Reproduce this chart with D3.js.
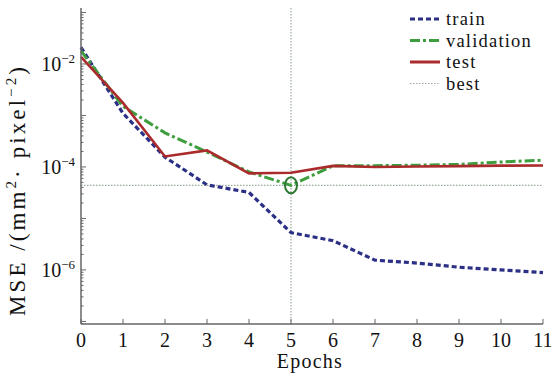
<!DOCTYPE html>
<html>
<head>
<meta charset="utf-8">
<script src="https://cdn.jsdelivr.net/npm/d3@7"></script>
<style>
  body { margin: 0; background: #fff; }
  svg text { fill: #111; }
</style>
</head>
<body>
<script>
var width = 553,
    height = 375;

var margin = { top: 8, right: 10, bottom: 51, left: 81 };

// data
var epochs = [0, 1, 2, 3, 4, 5, 6, 7, 8, 9, 10, 11];
var train = [2.1e-2, 1.1e-3, 1.55e-4, 4.5e-5, 3.2e-5, 5.3e-6, 3.7e-6, 1.55e-6, 1.36e-6, 1.13e-6, 1.0e-6, 8.9e-7];
var validation = [1.8e-2, 1.5e-3, 4.6e-4, 1.95e-4, 8e-5, 4.4e-5, 1.05e-4, 1.06e-4, 1.08e-4, 1.12e-4, 1.25e-4, 1.35e-4];
var test = [1.37e-2, 1.75e-3, 1.6e-4, 2.1e-4, 7.5e-5, 7.7e-5, 1.05e-4, 1.0e-4, 1.02e-4, 1.04e-4, 1.06e-4, 1.07e-4];
var bestEpoch = 5, bestValue = 4.4e-5;
var yTicks = [-2, -4, -6];
var legendNames = ["train", "validation", "test", "best"];

var svg = d3.select("body").append("svg")
    .attr("width", width)
    .attr("height", height);

var x = d3.scaleLinear().domain([0, 11]).range([margin.left, width - margin.right]);
var y = d3.scaleLog().domain([Math.pow(10, -7.05), Math.pow(10, -0.913)]).range([height - margin.bottom, margin.top]);

var axisColor = "#666";
var font = "'Liberation Serif', serif";

// best lines
svg.append("line")
    .attr("x1", x(0)).attr("x2", x(11))
    .attr("y1", y(bestValue)).attr("y2", y(bestValue))
    .attr("stroke", "#9aab9a").attr("stroke-width", 1.2)
    .attr("stroke-dasharray", "1.5,1.5");
svg.append("line")
    .attr("x1", x(bestEpoch)).attr("x2", x(bestEpoch))
    .attr("y1", y.range()[1]).attr("y2", y.range()[0])
    .attr("stroke", "#9aab9a").attr("stroke-width", 1.2)
    .attr("stroke-dasharray", "1.5,1.5");

var line = d3.line()
    .x(function(d, i) { return x(epochs[i]); })
    .y(function(d) { return y(d); });

var series = [
  { name: "train", values: train, color: "#2b2f86", width: 3.2, dash: "5,3" },
  { name: "validation", values: validation, color: "#3e9e3e", width: 3, dash: "10,3,3,3" },
  { name: "test", values: test, color: "#ab2a2c", width: 2.6, dash: null },
];

series.forEach(function(s) {
  svg.append("path")
      .datum(s.values)
      .attr("d", line)
      .attr("fill", "none")
      .attr("stroke", s.color)
      .attr("stroke-width", s.width)
      .attr("stroke-dasharray", s.dash);
});

// best marker
svg.append("ellipse")
    .attr("cx", x(bestEpoch)).attr("cy", y(bestValue))
    .attr("rx", 6).attr("ry", 8)
    .attr("fill", "none")
    .attr("stroke", "#2f7a33").attr("stroke-width", 2);

// axes
var yAxis = svg.append("g").attr("transform", "translate(" + margin.left + ",0)");
yAxis.append("line")
    .attr("x1", 0).attr("x2", 0)
    .attr("y1", y.range()[1]).attr("y2", y.range()[0])
    .attr("stroke", axisColor).attr("stroke-width", 1.5);

var minor = [];
for (var e = -8; e <= -1; e++) {
  for (var m = 1; m <= 9; m++) {
    var v = m * Math.pow(10, e);
    if (v >= y.domain()[0] && v <= y.domain()[1]) minor.push(v);
  }
}
yAxis.selectAll(".ytick").data(minor).enter().append("line")
    .attr("x1", 0)
    .attr("x2", function(d) { return Math.abs(Math.log10(d) - Math.round(Math.log10(d))) < 1e-9 ? 5 : 2.5; })
    .attr("y1", function(d) { return y(d); })
    .attr("y2", function(d) { return y(d); })
    .attr("stroke", axisColor).attr("stroke-width", 1);

var yl = yAxis.selectAll(".ylab").data(yTicks).enter().append("text")
    .attr("x", -6)
    .attr("y", function(d) { return y(Math.pow(10, d)) + 7; })
    .attr("text-anchor", "end")
    .style("font-family", font)
    .style("font-size", "20px");
yl.append("tspan").text("10");
yl.append("tspan").attr("dy", -8).style("font-size", "13px").text(function(d) { return "\u2212" + (-d); });

var xAxis = svg.append("g").attr("transform", "translate(0," + (height - margin.bottom) + ")");
xAxis.append("line")
    .attr("x1", x(0)).attr("x2", x(11))
    .attr("stroke", axisColor).attr("stroke-width", 1.5);
xAxis.selectAll(".xtick").data(epochs).enter().append("line")
    .attr("x1", function(d) { return x(d); }).attr("x2", function(d) { return x(d); })
    .attr("y1", 0).attr("y2", -5)
    .attr("stroke", axisColor).attr("stroke-width", 1);
xAxis.selectAll(".xlab").data(epochs).enter().append("text")
    .attr("x", function(d) { return x(d); })
    .attr("y", 23)
    .attr("text-anchor", "middle")
    .style("font-family", font)
    .style("font-size", "20px")
    .text(function(d) { return d; });

svg.append("text")
    .attr("x", x(5.45)).attr("y", 368)
    .attr("text-anchor", "middle")
    .style("font-family", font)
    .style("font-size", "20px")
    .style("letter-spacing", "1.2px")
    .text("Epochs");

var ylab = svg.append("text")
    .attr("transform", "translate(25,190) rotate(-90)")
    .attr("text-anchor", "middle")
    .style("font-family", font)
    .style("font-size", "23px");
ylab.append("tspan").text("MSE /(mm");
ylab.append("tspan").attr("dy", -9).style("font-size", "15px").text("2");
ylab.append("tspan").attr("dy", 9).text("\u00b7 pixel");
ylab.append("tspan").attr("dy", -9).style("font-size", "15px").text("\u22122");
ylab.append("tspan").attr("dy", 9).text(")");

// stretch the y label to the length seen in the picture
var labLen = ylab.node().getComputedTextLength();
var nChars = ylab.text().length;
if (labLen < 252) ylab.style("letter-spacing", ((252 - labLen) / nChars) + "px");

// legend
var legendStyle = [
  { color: "#2b2f86", width: 3.2, dash: "5,3" },
  { color: "#3e9e3e", width: 3, dash: "10,3,3,3" },
  { color: "#ab2a2c", width: 3, dash: null },
  { color: "#9aab9a", width: 1.2, dash: "1.5,1.5" },
];
var legend = svg.selectAll(".legend").data(legendNames).enter().append("g")
    .attr("transform", function(d, i) { return "translate(410," + (19 + i * 21.5) + ")"; });
legend.append("line")
    .attr("x1", 0).attr("x2", 30)
    .attr("stroke", function(d, i) { return legendStyle[i].color; })
    .attr("stroke-width", function(d, i) { return legendStyle[i].width; })
    .attr("stroke-dasharray", function(d, i) { return legendStyle[i].dash; });
legend.append("text")
    .attr("x", 36).attr("y", 6)
    .style("font-family", font)
    .style("font-size", "18.5px")
    .style("letter-spacing", "1.2px")
    .text(function(d) { return d; });
</script>
</body>
</html>
